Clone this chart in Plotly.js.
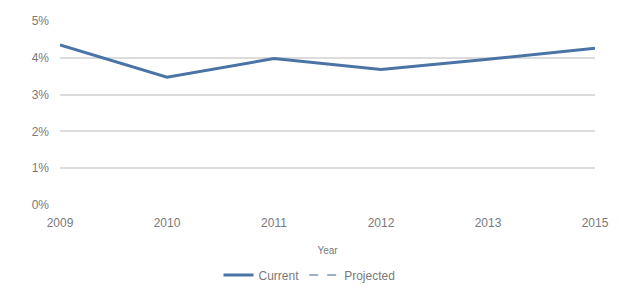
<!DOCTYPE html>
<html><head><meta charset="utf-8">
<script src="https://cdn.plot.ly/plotly-3.0.1.min.js"></script>
<style>html,body{margin:0;padding:0;background:#fff}#chart{width:619px;height:288px}</style>
</head><body><div id="chart"></div>
<script>
const years = ['2009','2010','2011','2012','2013','2015'];
const current = [0.0435, 0.0347, 0.0398, 0.0368, 0.0396, 0.0426];
const projected = [null, null, null, null, null, null];
const yTicks = [0, 0.01, 0.02, 0.03, 0.04, 0.05];
const yTickText = ['0%','1%','2%','3%','4%','5%'];

const traces = [
  {x: years, y: current, name: 'Current', type: 'scatter', mode: 'lines',
   line: {color: '#4a74a5', width: 3}},
  {x: years, y: projected, name: 'Projected', type: 'scatter', mode: 'lines',
   line: {color: '#7f96b5', width: 1.5, dash: 'dash'}}
];
const layout = {
  width: 619, height: 288,
  margin: {l: 60, r: 24, t: 21, b: 83},
  paper_bgcolor: '#fff', plot_bgcolor: '#fff',
  font: {family: 'Liberation Sans, Arial, sans-serif', size: 11, color: '#7a7a7a'},
  showlegend: true,
  legend: {orientation: 'h', x: 0.5, xanchor: 'center', xref: 'container',
           y: 0.045, yanchor: 'middle', yref: 'container',
           font: {size: 12, color: '#7a7a7a'}, itemwidth: 30},
  xaxis: {type: 'category', range: [0, 5], showgrid: false, zeroline: false, automargin: false,
          showline: false, ticks: '', ticklabelstandoff: 9, tickfont: {size: 12, color: '#7a7a7a'},
          title: {text: 'Year', font: {size: 10, color: '#7a7a7a'}, standoff: 17}},
  yaxis: {range: [0, 0.05], tickvals: yTicks, ticktext: yTickText, showgrid: true, automargin: false,
          gridcolor: '#dcdcdc', gridwidth: 2, zeroline: false, showline: false,
          ticks: '', ticklabelstandoff: 10, tickfont: {size: 12, color: '#7a7a7a'}}
};
Plotly.newPlot('chart', traces, layout, {displayModeBar: false, staticPlot: true});
</script></body></html>
